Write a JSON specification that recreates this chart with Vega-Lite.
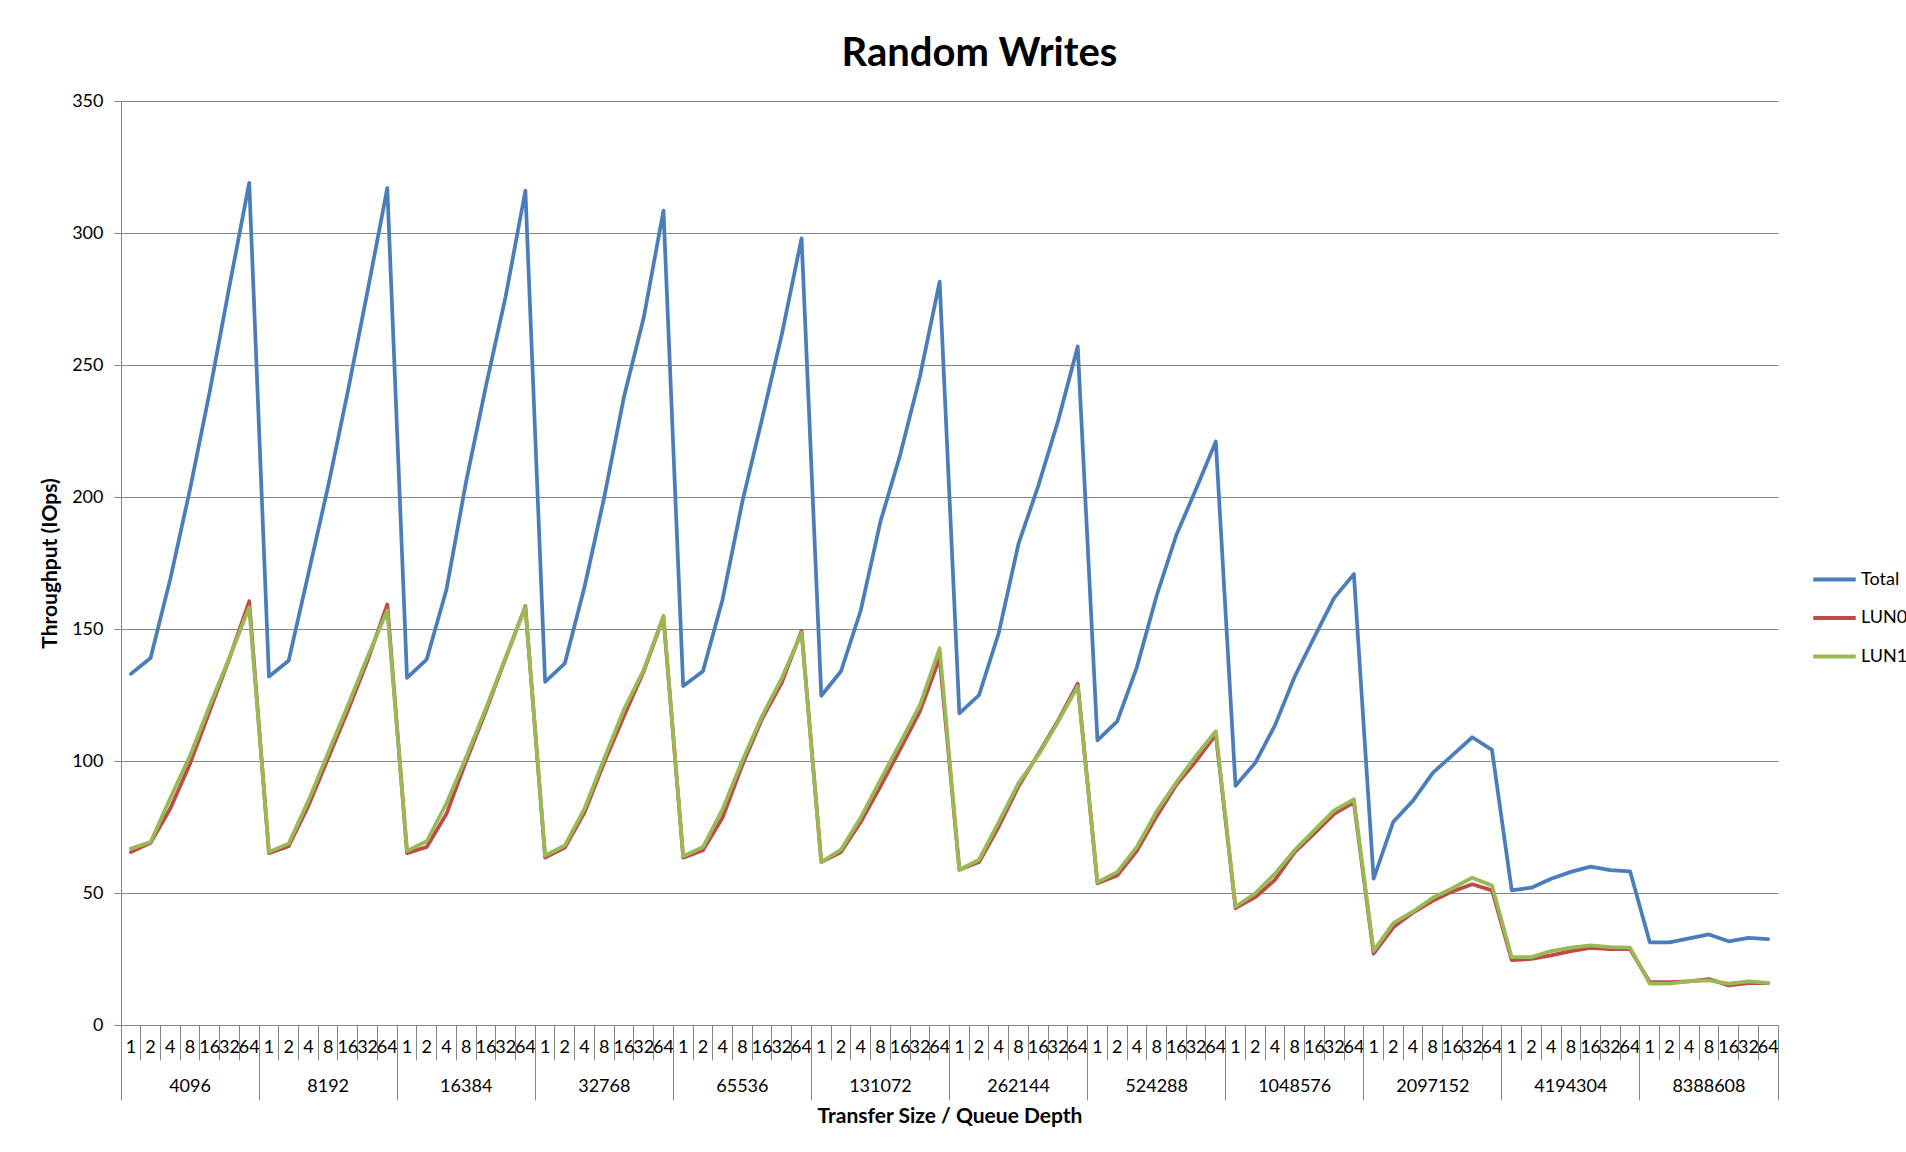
{
"$schema": "https://vega.github.io/schema/vega-lite/v6.json",
"width": 1657, "height": 924,
"autosize": {"type": "none"},
"padding": {"left": 121, "top": 101, "right": 128, "bottom": 127},
"background": "white",
"config": {"font": "Lato", "view": {"stroke": null}},
"title": {"text": "Random Writes", "fontSize": 40, "fontWeight": "bold", "font": "Lato", "color": "black", "anchor": "middle", "frame": "group", "dx": 30, "offset": -14, "baseline": "alphabetic"},
"data": {"values": [
{"test":"4096/1","series":"Total","iops":133},{"test":"4096/2","series":"Total","iops":139},{"test":"4096/4","series":"Total","iops":169},{"test":"4096/8","series":"Total","iops":203},{"test":"4096/16","series":"Total","iops":240},{"test":"4096/32","series":"Total","iops":280},{"test":"4096/64","series":"Total","iops":319},
{"test":"8192/1","series":"Total","iops":132},{"test":"8192/2","series":"Total","iops":138},{"test":"8192/4","series":"Total","iops":171},{"test":"8192/8","series":"Total","iops":204},{"test":"8192/16","series":"Total","iops":240},{"test":"8192/32","series":"Total","iops":278},{"test":"8192/64","series":"Total","iops":317},
{"test":"16384/1","series":"Total","iops":131.5},{"test":"16384/2","series":"Total","iops":138.5},{"test":"16384/4","series":"Total","iops":165},{"test":"16384/8","series":"Total","iops":206},{"test":"16384/16","series":"Total","iops":242},{"test":"16384/32","series":"Total","iops":276},{"test":"16384/64","series":"Total","iops":316},
{"test":"32768/1","series":"Total","iops":130},{"test":"32768/2","series":"Total","iops":137},{"test":"32768/4","series":"Total","iops":166},{"test":"32768/8","series":"Total","iops":200},{"test":"32768/16","series":"Total","iops":238},{"test":"32768/32","series":"Total","iops":268},{"test":"32768/64","series":"Total","iops":308.5},
{"test":"65536/1","series":"Total","iops":128.4},{"test":"65536/2","series":"Total","iops":134},{"test":"65536/4","series":"Total","iops":161.3},{"test":"65536/8","series":"Total","iops":198.3},{"test":"65536/16","series":"Total","iops":229.6},{"test":"65536/32","series":"Total","iops":261.6},{"test":"65536/64","series":"Total","iops":298},
{"test":"131072/1","series":"Total","iops":124.7},{"test":"131072/2","series":"Total","iops":134},{"test":"131072/4","series":"Total","iops":157},{"test":"131072/8","series":"Total","iops":190.7},{"test":"131072/16","series":"Total","iops":216},{"test":"131072/32","series":"Total","iops":245.6},{"test":"131072/64","series":"Total","iops":281.6},
{"test":"262144/1","series":"Total","iops":118},{"test":"262144/2","series":"Total","iops":125},{"test":"262144/4","series":"Total","iops":148.6},{"test":"262144/8","series":"Total","iops":182.3},{"test":"262144/16","series":"Total","iops":204.2},{"test":"262144/32","series":"Total","iops":228.7},{"test":"262144/64","series":"Total","iops":257},
{"test":"524288/1","series":"Total","iops":107.8},{"test":"524288/2","series":"Total","iops":115},{"test":"524288/4","series":"Total","iops":135.6},{"test":"524288/8","series":"Total","iops":162.6},{"test":"524288/16","series":"Total","iops":185.6},{"test":"524288/32","series":"Total","iops":203},{"test":"524288/64","series":"Total","iops":221},
{"test":"1048576/1","series":"Total","iops":90.6},{"test":"1048576/2","series":"Total","iops":99.3},{"test":"1048576/4","series":"Total","iops":113.5},{"test":"1048576/8","series":"Total","iops":132},{"test":"1048576/16","series":"Total","iops":147},{"test":"1048576/32","series":"Total","iops":161.8},{"test":"1048576/64","series":"Total","iops":170.8},
{"test":"2097152/1","series":"Total","iops":55.4},{"test":"2097152/2","series":"Total","iops":77},{"test":"2097152/4","series":"Total","iops":85},{"test":"2097152/8","series":"Total","iops":95.5},{"test":"2097152/16","series":"Total","iops":102.2},{"test":"2097152/32","series":"Total","iops":109},{"test":"2097152/64","series":"Total","iops":104.2},
{"test":"4194304/1","series":"Total","iops":51},{"test":"4194304/2","series":"Total","iops":52},{"test":"4194304/4","series":"Total","iops":55.4},{"test":"4194304/8","series":"Total","iops":58},{"test":"4194304/16","series":"Total","iops":60},{"test":"4194304/32","series":"Total","iops":58.7},{"test":"4194304/64","series":"Total","iops":58.2},
{"test":"8388608/1","series":"Total","iops":31.3},{"test":"8388608/2","series":"Total","iops":31.3},{"test":"8388608/4","series":"Total","iops":32.8},{"test":"8388608/8","series":"Total","iops":34.3},{"test":"8388608/16","series":"Total","iops":31.7},{"test":"8388608/32","series":"Total","iops":33},{"test":"8388608/64","series":"Total","iops":32.5},
{"test":"4096/1","series":"LUN0","iops":65.5},{"test":"4096/2","series":"LUN0","iops":69},{"test":"4096/4","series":"LUN0","iops":82},{"test":"4096/8","series":"LUN0","iops":99},{"test":"4096/16","series":"LUN0","iops":119},{"test":"4096/32","series":"LUN0","iops":139},{"test":"4096/64","series":"LUN0","iops":160.5},
{"test":"8192/1","series":"LUN0","iops":65.1},{"test":"8192/2","series":"LUN0","iops":67.7},{"test":"8192/4","series":"LUN0","iops":83},{"test":"8192/8","series":"LUN0","iops":101},{"test":"8192/16","series":"LUN0","iops":119},{"test":"8192/32","series":"LUN0","iops":138},{"test":"8192/64","series":"LUN0","iops":159.3},
{"test":"16384/1","series":"LUN0","iops":65.1},{"test":"16384/2","series":"LUN0","iops":67.4},{"test":"16384/4","series":"LUN0","iops":80},{"test":"16384/8","series":"LUN0","iops":100},{"test":"16384/16","series":"LUN0","iops":119},{"test":"16384/32","series":"LUN0","iops":139},{"test":"16384/64","series":"LUN0","iops":158.6},
{"test":"32768/1","series":"LUN0","iops":63.4},{"test":"32768/2","series":"LUN0","iops":67.2},{"test":"32768/4","series":"LUN0","iops":80.6},{"test":"32768/8","series":"LUN0","iops":99.5},{"test":"32768/16","series":"LUN0","iops":117},{"test":"32768/32","series":"LUN0","iops":134},{"test":"32768/64","series":"LUN0","iops":154.6},
{"test":"65536/1","series":"LUN0","iops":63.4},{"test":"65536/2","series":"LUN0","iops":66.2},{"test":"65536/4","series":"LUN0","iops":78.6},{"test":"65536/8","series":"LUN0","iops":98.5},{"test":"65536/16","series":"LUN0","iops":116},{"test":"65536/32","series":"LUN0","iops":129.7},{"test":"65536/64","series":"LUN0","iops":149.3},
{"test":"131072/1","series":"LUN0","iops":61.7},{"test":"131072/2","series":"LUN0","iops":65.5},{"test":"131072/4","series":"LUN0","iops":76.9},{"test":"131072/8","series":"LUN0","iops":90.4},{"test":"131072/16","series":"LUN0","iops":104.4},{"test":"131072/32","series":"LUN0","iops":118.8},{"test":"131072/64","series":"LUN0","iops":139},
{"test":"262144/1","series":"LUN0","iops":58.8},{"test":"262144/2","series":"LUN0","iops":61.7},{"test":"262144/4","series":"LUN0","iops":75.2},{"test":"262144/8","series":"LUN0","iops":90.4},{"test":"262144/16","series":"LUN0","iops":102.7},{"test":"262144/32","series":"LUN0","iops":115.3},{"test":"262144/64","series":"LUN0","iops":129.3},
{"test":"524288/1","series":"LUN0","iops":53.7},{"test":"524288/2","series":"LUN0","iops":56.6},{"test":"524288/4","series":"LUN0","iops":66},{"test":"524288/8","series":"LUN0","iops":79},{"test":"524288/16","series":"LUN0","iops":91},{"test":"524288/32","series":"LUN0","iops":100},{"test":"524288/64","series":"LUN0","iops":110},
{"test":"1048576/1","series":"LUN0","iops":44.3},{"test":"1048576/2","series":"LUN0","iops":48.4},{"test":"1048576/4","series":"LUN0","iops":55},{"test":"1048576/8","series":"LUN0","iops":65.5},{"test":"1048576/16","series":"LUN0","iops":72.6},{"test":"1048576/32","series":"LUN0","iops":80},{"test":"1048576/64","series":"LUN0","iops":84.3},
{"test":"2097152/1","series":"LUN0","iops":27},{"test":"2097152/2","series":"LUN0","iops":37},{"test":"2097152/4","series":"LUN0","iops":42.6},{"test":"2097152/8","series":"LUN0","iops":47},{"test":"2097152/16","series":"LUN0","iops":50.6},{"test":"2097152/32","series":"LUN0","iops":53.3},{"test":"2097152/64","series":"LUN0","iops":51},
{"test":"4194304/1","series":"LUN0","iops":24.6},{"test":"4194304/2","series":"LUN0","iops":25},{"test":"4194304/4","series":"LUN0","iops":26.4},{"test":"4194304/8","series":"LUN0","iops":28},{"test":"4194304/16","series":"LUN0","iops":29.2},{"test":"4194304/32","series":"LUN0","iops":28.7},{"test":"4194304/64","series":"LUN0","iops":28.7},
{"test":"8388608/1","series":"LUN0","iops":16.2},{"test":"8388608/2","series":"LUN0","iops":16.2},{"test":"8388608/4","series":"LUN0","iops":16.5},{"test":"8388608/8","series":"LUN0","iops":17.4},{"test":"8388608/16","series":"LUN0","iops":15},{"test":"8388608/32","series":"LUN0","iops":15.9},{"test":"8388608/64","series":"LUN0","iops":15.9},
{"test":"4096/1","series":"LUN1","iops":66.8},{"test":"4096/2","series":"LUN1","iops":69.3},{"test":"4096/4","series":"LUN1","iops":86},{"test":"4096/8","series":"LUN1","iops":102},{"test":"4096/16","series":"LUN1","iops":121},{"test":"4096/32","series":"LUN1","iops":139.2},{"test":"4096/64","series":"LUN1","iops":158.2},
{"test":"8192/1","series":"LUN1","iops":65.5},{"test":"8192/2","series":"LUN1","iops":68.7},{"test":"8192/4","series":"LUN1","iops":85},{"test":"8192/8","series":"LUN1","iops":103},{"test":"8192/16","series":"LUN1","iops":121},{"test":"8192/32","series":"LUN1","iops":139.5},{"test":"8192/64","series":"LUN1","iops":157},
{"test":"16384/1","series":"LUN1","iops":65.9},{"test":"16384/2","series":"LUN1","iops":69.6},{"test":"16384/4","series":"LUN1","iops":84},{"test":"16384/8","series":"LUN1","iops":101.5},{"test":"16384/16","series":"LUN1","iops":120},{"test":"16384/32","series":"LUN1","iops":139.2},{"test":"16384/64","series":"LUN1","iops":158.2},
{"test":"32768/1","series":"LUN1","iops":64.2},{"test":"32768/2","series":"LUN1","iops":68},{"test":"32768/4","series":"LUN1","iops":82},{"test":"32768/8","series":"LUN1","iops":101},{"test":"32768/16","series":"LUN1","iops":119.6},{"test":"32768/32","series":"LUN1","iops":134.5},{"test":"32768/64","series":"LUN1","iops":155},
{"test":"65536/1","series":"LUN1","iops":63.9},{"test":"65536/2","series":"LUN1","iops":67.4},{"test":"65536/4","series":"LUN1","iops":81.8},{"test":"65536/8","series":"LUN1","iops":100.2},{"test":"65536/16","series":"LUN1","iops":117},{"test":"65536/32","series":"LUN1","iops":131.4},{"test":"65536/64","series":"LUN1","iops":148.6},
{"test":"131072/1","series":"LUN1","iops":61.7},{"test":"131072/2","series":"LUN1","iops":66.4},{"test":"131072/4","series":"LUN1","iops":78.6},{"test":"131072/8","series":"LUN1","iops":92.9},{"test":"131072/16","series":"LUN1","iops":106.9},{"test":"131072/32","series":"LUN1","iops":121.2},{"test":"131072/64","series":"LUN1","iops":142.7},
{"test":"262144/1","series":"LUN1","iops":58.8},{"test":"262144/2","series":"LUN1","iops":62.6},{"test":"262144/4","series":"LUN1","iops":76.9},{"test":"262144/8","series":"LUN1","iops":91.6},{"test":"262144/16","series":"LUN1","iops":102.2},{"test":"262144/32","series":"LUN1","iops":114.8},{"test":"262144/64","series":"LUN1","iops":128.3},
{"test":"524288/1","series":"LUN1","iops":54.1},{"test":"524288/2","series":"LUN1","iops":57.9},{"test":"524288/4","series":"LUN1","iops":67.5},{"test":"524288/8","series":"LUN1","iops":80.9},{"test":"524288/16","series":"LUN1","iops":91.9},{"test":"524288/32","series":"LUN1","iops":102},{"test":"524288/64","series":"LUN1","iops":111.3},
{"test":"1048576/1","series":"LUN1","iops":44.8},{"test":"1048576/2","series":"LUN1","iops":49.9},{"test":"1048576/4","series":"LUN1","iops":57.3},{"test":"1048576/8","series":"LUN1","iops":66.3},{"test":"1048576/16","series":"LUN1","iops":73.8},{"test":"1048576/32","series":"LUN1","iops":81.3},{"test":"1048576/64","series":"LUN1","iops":85.5},
{"test":"2097152/1","series":"LUN1","iops":28.1},{"test":"2097152/2","series":"LUN1","iops":38.6},{"test":"2097152/4","series":"LUN1","iops":43},{"test":"2097152/8","series":"LUN1","iops":48.2},{"test":"2097152/16","series":"LUN1","iops":51.8},{"test":"2097152/32","series":"LUN1","iops":55.8},{"test":"2097152/64","series":"LUN1","iops":52.8},
{"test":"4194304/1","series":"LUN1","iops":25.7},{"test":"4194304/2","series":"LUN1","iops":25.7},{"test":"4194304/4","series":"LUN1","iops":28},{"test":"4194304/8","series":"LUN1","iops":29.3},{"test":"4194304/16","series":"LUN1","iops":30.2},{"test":"4194304/32","series":"LUN1","iops":29.5},{"test":"4194304/64","series":"LUN1","iops":29.3},
{"test":"8388608/1","series":"LUN1","iops":15.7},{"test":"8388608/2","series":"LUN1","iops":15.7},{"test":"8388608/4","series":"LUN1","iops":16.6},{"test":"8388608/8","series":"LUN1","iops":16.9},{"test":"8388608/16","series":"LUN1","iops":15.7},{"test":"8388608/32","series":"LUN1","iops":16.5},{"test":"8388608/64","series":"LUN1","iops":16}
]},
"layer": [
 {
  "mark": {"type": "line", "strokeWidth": 3.75, "strokeJoin": "round", "strokeCap": "round"},
  "encoding": {
   "x": {"field": "test", "type": "ordinal", "sort": null, "bandPosition": 0.5,
         "scale": {"type": "band", "paddingInner": 0, "paddingOuter": 0},
         "axis": {"orient": "bottom", "bandPosition": 0, "labelExpr": "split(datum.value,'/')[1]", "labelAngle": 0, "labelFontSize": 18, "labelColor": "black", "labelFont": "Lato", "labelOverlap": false, "labelBound": false, "labelFlush": false, "tickSize": 35, "tickColor": "#868686", "tickWidth": 1, "domainColor": "#868686", "domainWidth": 1, "labelPadding": -22, "title": null, "grid": false}},
   "y": {"field": "iops", "type": "quantitative", "scale": {"domain": [0, 350], "nice": false, "zero": true},
         "axis": {"values": [0, 50, 100, 150, 200, 250, 300, 350], "grid": true, "gridColor": "#868686", "gridWidth": 1, "domainColor": "#868686", "tickColor": "#868686", "tickSize": 7, "labelPadding": 11, "labelFontSize": 18, "labelColor": "black", "labelFont": "Lato", "title": "Throughput (IOps)", "titleFont": "Lato", "titleFontSize": 21, "titleFontWeight": "bold", "titleColor": "black", "titlePadding": 11}},
   "color": {"field": "series", "type": "nominal",
             "scale": {"domain": ["Total", "LUN0", "LUN1"], "range": ["#4A7EBB", "#BE4B48", "#98B954"]},
             "legend": {"orient": "none", "legendX": 1690, "legendY": 455, "title": null, "padding": 0, "symbolType": "stroke", "symbolSize": 1800, "symbolStrokeWidth": 4, "labelFontSize": 18, "labelFont": "Lato", "labelColor": "black", "labelOffset": 3, "rowPadding": 5.5}}
  }
 },
 {
  "mark": {"type": "point", "opacity": 0},
  "encoding": {
   "x": {"field": "test", "type": "ordinal", "sort": null, "bandPosition": 0.5,
         "scale": {"type": "band", "paddingInner": 0, "paddingOuter": 0},
         "axis": {"orient": "bottom", "values": ["4096/1","8192/1","16384/1","32768/1","65536/1","131072/1","262144/1","524288/1","1048576/1","2097152/1","4194304/1","8388608/1"], "bandPosition": 0, "domain": false, "tickSize": 75, "tickColor": "#868686", "tickWidth": 1, "labelExpr": "split(datum.value,'/')[0]", "labelOffset": 59.18, "labelPadding": -23, "labelAngle": 0, "labelFontSize": 18, "labelFont": "Lato", "labelColor": "black", "labelOverlap": false, "labelBound": false, "labelFlush": false, "title": "Transfer Size / Queue Depth", "titleFont": "Lato", "titleFontSize": 21, "titleFontWeight": "bold", "titleColor": "black", "titlePadding": 5, "grid": false}},
   "y": {"field": "iops", "type": "quantitative", "scale": {"domain": [0, 350], "nice": false}, "axis": null}
  }
 },
 {
  "mark": {"type": "point", "opacity": 0},
  "encoding": {
   "x": {"field": "test", "type": "ordinal", "sort": null, "bandPosition": 0.5,
         "scale": {"type": "band", "paddingInner": 0, "paddingOuter": 0},
         "axis": {"orient": "bottom", "values": ["8388608/64"], "bandPosition": 1, "domain": false, "tickSize": 75, "tickColor": "#868686", "tickWidth": 1, "labels": false, "title": null, "grid": false}},
   "y": {"field": "iops", "type": "quantitative", "scale": {"domain": [0, 350], "nice": false}, "axis": null}
  }
 }
],
"resolve": {"axis": {"x": "independent", "y": "independent"}}
}
